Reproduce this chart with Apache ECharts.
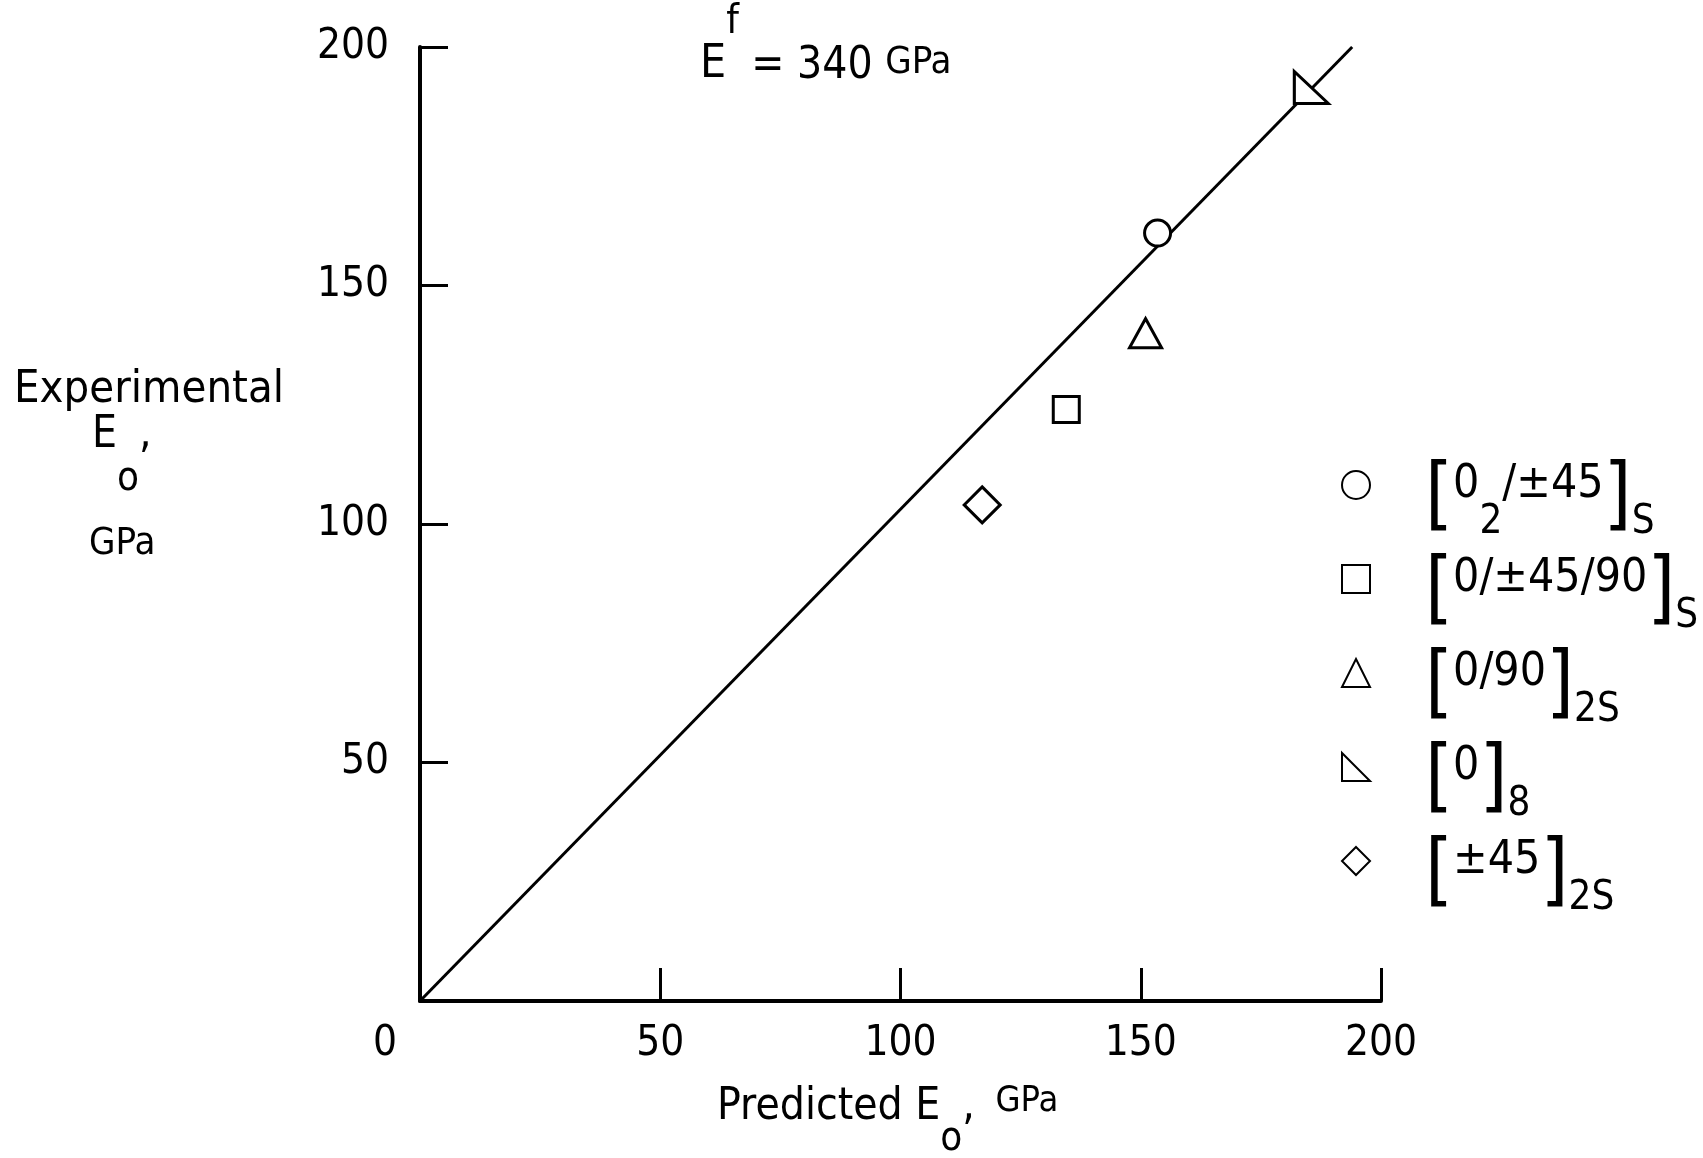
<!DOCTYPE html>
<html>
<head>
<meta charset="utf-8">
<style>
  html, body { margin: 0; padding: 0; background: #fff; }
  #chart { width: 1703px; height: 1158px; }
</style>
<script src="https://cdn.jsdelivr.net/npm/echarts@6/dist/echarts.min.js"></script>
</head>
<body>
<div id="chart"></div>
<script>
// Predicted vs experimental laminate modulus E_o (GPa), fibre modulus 340 GPa.

// layup labels: inner part of the bracket ("_2" = subscript) and the outer subscript
var layupInner = ['0_2/±45', '0/±45/90', '0/90', '0', '±45'];
var layupOuter = ['S', 'S', '2S', '8', '2S'];

var predicted = [153.5, 134.5, 151, 185.5, 117];
var experimental = [161, 124, 140, 191.5, 104];

var markers = ['circle', 'rect', 'triangle', 'path://M0,0L0,10L10,10Z', 'diamond'];

// correlation line
var lineX = [0, 194];
var lineY = [0, 200];

// axis range / tick step
var axisMin = 0;
var axisMax = 200;
var axisStep = 50;

var FONT = 'DejaVu Sans Condensed';
var markerSizes = [26, 26, [32, 29], [34, 32], 36];

function seriesName(i) {
  return '[' + layupInner[i] + ']' + layupOuter[i];
}

// every rich token is top-aligned; its "height" sets where its centre lands
function tok(size, h, extra) {
  var s = { fontFamily: FONT, fontSize: size, height: h, lineHeight: 60, verticalAlign: 'top', color: '#000', fill: '#000' };
  for (var k in extra) s[k] = extra[k];
  return s;
}

function legendLabel(name) {
  var i = 0;
  for (var k = 0; k < layupInner.length; k++) {
    if (seriesName(k) === name) i = k;
  }
  var inner = layupInner[i].replace(/_(\d)/, '}{sub|$1}{txt|');
  return '{sp| }{br|[}{txt|' + inner + '}{br|]}{sub|' + layupOuter[i] + '}';
}

var chart = echarts.init(document.getElementById('chart'), null, { renderer: 'canvas' });

var series = [];
series.push({
  type: 'line',
  name: 'fit',
  data: lineX.map(function (x, i) { return [x, lineY[i]]; }),
  showSymbol: false,
  lineStyle: { color: '#000', width: 3 },
  z: 1,
  silent: true
});
for (var i = 0; i < predicted.length; i++) {
  series.push({
    type: 'scatter',
    name: seriesName(i),
    data: [[predicted[i], experimental[i]]],
    symbol: markers[i],
    symbolSize: markerSizes[i],
    itemStyle: { color: '#fff', borderColor: '#000', borderWidth: 3, opacity: 1 },
    z: 5
  });
}

var option = {
  backgroundColor: '#fff',
  animation: false,
  grid: { left: 420, right: 322, top: 47, bottom: 157 },
  xAxis: {
    type: 'value',
    min: axisMin,
    max: axisMax,
    interval: axisStep,
    splitLine: { show: false },
    axisLine: { show: true, lineStyle: { color: '#000', width: 4 } },
    axisTick: { show: true, inside: true, length: 33, lineStyle: { color: '#000', width: 3 } },
    axisLabel: {
      margin: 22,
      color: '#000',
      fontFamily: FONT,
      fontSize: 42,
      formatter: function (v) { return v === 0 ? '{z|0}' : String(v); },
      rich: { z: { fontFamily: FONT, fontSize: 42, padding: [0, 70, 0, 0] } }
    }
  },
  yAxis: {
    type: 'value',
    min: axisMin,
    max: axisMax,
    interval: axisStep,
    splitLine: { show: false },
    axisLine: { show: true, lineStyle: { color: '#000', width: 4 } },
    axisTick: { show: true, inside: true, length: 28, lineStyle: { color: '#000', width: 3 } },
    axisLabel: {
      margin: 31,
      color: '#000',
      fontFamily: FONT,
      fontSize: 42,
      formatter: function (v) { return v === 0 ? '' : String(v); }
    }
  },
  legend: {
    orient: 'vertical',
    left: 1341,
    top: 455,
    padding: 0,
    itemGap: -42,
    itemWidth: 28,
    itemHeight: 28,
    selectedMode: false,
    data: layupInner.map(function (s, i) { return seriesName(i); }),
    formatter: legendLabel,
    textStyle: {
      color: '#000',
      lineHeight: 60,
      rich: {
        sp: tok(10, 60, { width: 50 }),
        br: tok(80, 88),
        txt: tok(46, 60),
        sub: tok(40, 136)
      }
    }
  },
  graphic: [
    {
      type: 'text', x: 700, y: 5,
      style: {
        text: '{e|E}{sup|f}{n| = 340 }{g|GPa}',
        verticalAlign: 'top', align: 'left',
        rich: { e: tok(46, 120), sup: tok(40, 36), n: tok(44, 124), g: tok(38, 116) }
      }
    },
    {
      type: 'text', x: 14, y: 390,
      style: { text: 'Experimental', fontFamily: FONT, fontSize: 45, fill: '#000', verticalAlign: 'middle' }
    },
    {
      type: 'text', x: 92, y: 406,
      style: {
        text: '{t|E}{s|o}{t|,}',
        verticalAlign: 'top',
        rich: { t: tok(44, 60), s: tok(40, 148) }
      }
    },
    {
      type: 'text', x: 89, y: 544,
      style: { text: 'GPa', fontFamily: FONT, fontSize: 38, fill: '#000', verticalAlign: 'middle' }
    },
    {
      type: 'text', x: 717, y: 1078,
      style: {
        text: '{t|Predicted E}{s|o}{t|,}{g|  GPa}',
        verticalAlign: 'top',
        rich: { t: tok(44, 60), s: tok(40, 124), g: tok(36, 48) }
      }
    }
  ],
  series: series
};

chart.setOption(option);
</script>
</body>
</html>
